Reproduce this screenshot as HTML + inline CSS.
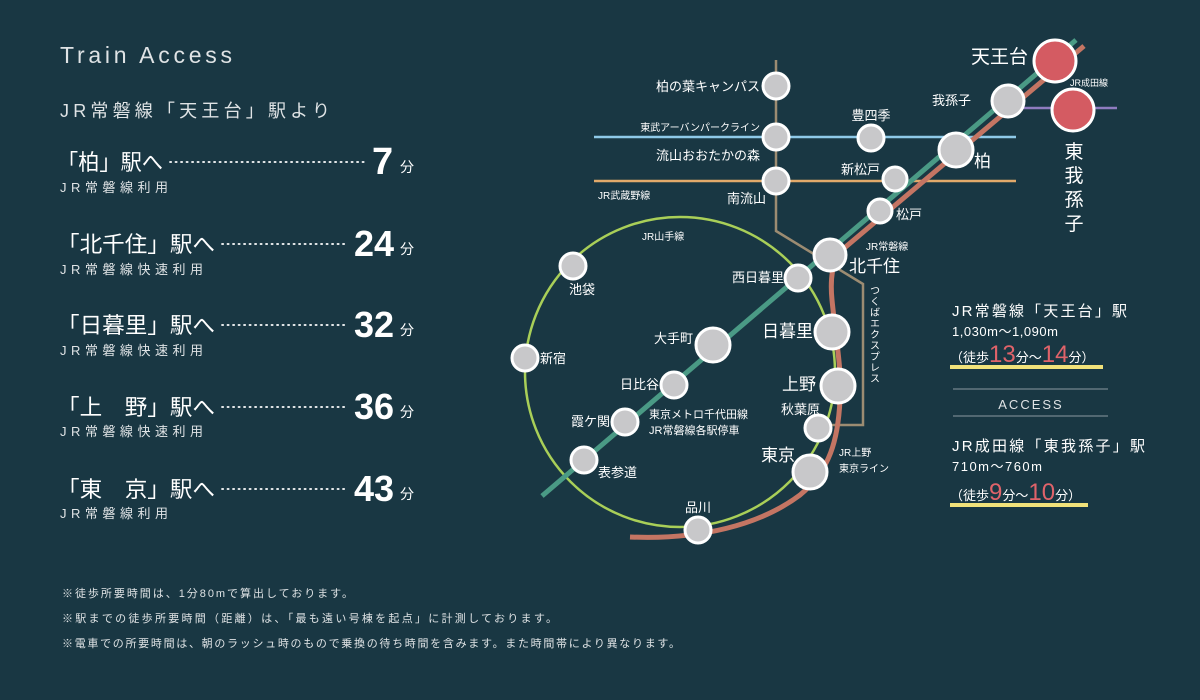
<!DOCTYPE html>
<html><head><meta charset="utf-8"><style>
html,body{margin:0;padding:0;background:#193743;}
svg{display:block}
text{font-family:"Liberation Sans","Noto Sans CJK JP",sans-serif;fill:#fff}
.s{fill:#c8c8ca;stroke:#fff;stroke-width:3}
.r{fill:#d45b62;stroke:#fff;stroke-width:3}
.l{fill:#dfe3e5}
.d{stroke:#fff;stroke-width:1.8;stroke-dasharray:1.2 4.3;stroke-linecap:round}
</style></head><body>
<svg width="1200" height="700" viewBox="0 0 1200 700" xmlns="http://www.w3.org/2000/svg">
<rect width="1200" height="700" fill="#193743"/>
<!-- left -->
<text x="60" y="63" font-size="23" textLength="172" lengthAdjust="spacing" font-weight="300" class="l">Train Access</text>
<text x="60" y="117" font-size="18" textLength="270" lengthAdjust="spacing" class="l">JR常磐線「天王台」駅より</text>

<text x="57" y="170" font-size="22" textLength="106" lengthAdjust="spacingAndGlyphs">「柏」駅へ</text>
<line x1="170" y1="162" x2="368" y2="162" class="d"/>
<text x="372" y="174" font-size="38" font-weight="bold">7</text>
<text x="400" y="172" font-size="14">分</text>
<text x="60" y="192" font-size="13" textLength="108" lengthAdjust="spacing" class="l">JR常磐線利用</text>

<text x="57" y="252" font-size="22" textLength="158" lengthAdjust="spacingAndGlyphs">「北千住」駅へ</text>
<line x1="222" y1="244" x2="346" y2="244" class="d"/>
<text x="354" y="256" font-size="36" font-weight="bold">24</text>
<text x="400" y="254" font-size="14">分</text>
<text x="60" y="274" font-size="13" textLength="143" lengthAdjust="spacing" class="l">JR常磐線快速利用</text>

<text x="57" y="333" font-size="22" textLength="158" lengthAdjust="spacingAndGlyphs">「日暮里」駅へ</text>
<line x1="222" y1="325" x2="346" y2="325" class="d"/>
<text x="354" y="337" font-size="36" font-weight="bold">32</text>
<text x="400" y="335" font-size="14">分</text>
<text x="60" y="355" font-size="13" textLength="143" lengthAdjust="spacing" class="l">JR常磐線快速利用</text>

<text x="57" y="415" font-size="22" textLength="158" lengthAdjust="spacingAndGlyphs">「上　野」駅へ</text>
<line x1="222" y1="407" x2="346" y2="407" class="d"/>
<text x="354" y="419" font-size="36" font-weight="bold">36</text>
<text x="400" y="417" font-size="14">分</text>
<text x="60" y="436" font-size="13" textLength="143" lengthAdjust="spacing" class="l">JR常磐線快速利用</text>

<text x="57" y="497" font-size="22" textLength="158" lengthAdjust="spacingAndGlyphs">「東　京」駅へ</text>
<line x1="222" y1="489" x2="346" y2="489" class="d"/>
<text x="354" y="501" font-size="36" font-weight="bold">43</text>
<text x="400" y="499" font-size="14">分</text>
<text x="60" y="518" font-size="13" textLength="108" lengthAdjust="spacing" class="l">JR常磐線利用</text>

<text x="62" y="597" font-size="11" textLength="291" lengthAdjust="spacing" class="l">※徒歩所要時間は、1分80mで算出しております。</text>
<text x="62" y="622" font-size="11" textLength="495" lengthAdjust="spacing" class="l">※駅までの徒歩所要時間（距離）は、「最も遠い号棟を起点」に計測しております。</text>
<text x="62" y="647" font-size="11" textLength="618" lengthAdjust="spacing" class="l">※電車での所要時間は、朝のラッシュ時のもので乗換の待ち時間を含みます。また時間帯により異なります。</text>

<!-- map lines -->
<circle cx="680" cy="372" r="155" fill="none" stroke="#a9cf58" stroke-width="2.5"/>
<line x1="594" y1="137" x2="1016" y2="137" stroke="#8ec9e8" stroke-width="2.5"/>
<line x1="594" y1="181" x2="1016" y2="181" stroke="#e2a96a" stroke-width="2.5"/>
<line x1="1000" y1="108" x2="1117" y2="108" stroke="#8f7cc0" stroke-width="2.5"/>
<polyline points="776,60 776,231 863,284 863,425 818,425" fill="none" stroke="#9c8c72" stroke-width="2.5"/>
<line x1="542" y1="496" x2="1076" y2="40" stroke="#4a9a85" stroke-width="5"/>
<path d="M1084,46 L842,250 C832,260 830,280 832,300 C836,340 842,370 840,400 C838,440 830,470 800,495 C760,525 700,540 630,537" fill="none" stroke="#c47563" stroke-width="5"/>

<!-- stations -->
<circle class="s" cx="776" cy="86" r="13"/>
<circle class="s" cx="776" cy="137" r="13"/>
<circle class="s" cx="776" cy="181" r="13"/>
<circle class="s" cx="871" cy="138" r="13"/>
<circle class="s" cx="895" cy="179" r="12"/>
<circle class="s" cx="880" cy="211" r="12"/>
<circle class="s" cx="1008" cy="101" r="16"/>
<circle class="s" cx="956" cy="150" r="17"/>
<circle class="s" cx="830" cy="255" r="16"/>
<circle class="s" cx="798" cy="278" r="13"/>
<circle class="s" cx="832" cy="332" r="17"/>
<circle class="s" cx="838" cy="386" r="17"/>
<circle class="s" cx="818" cy="428" r="13"/>
<circle class="s" cx="810" cy="472" r="17"/>
<circle class="s" cx="713" cy="345" r="17"/>
<circle class="s" cx="674" cy="385" r="13"/>
<circle class="s" cx="625" cy="422" r="13"/>
<circle class="s" cx="584" cy="460" r="13"/>
<circle class="s" cx="698" cy="530" r="13"/>
<circle class="s" cx="573" cy="266" r="13"/>
<circle class="s" cx="525" cy="358" r="13"/>
<circle class="r" cx="1055" cy="61" r="21"/>
<circle class="r" cx="1073" cy="110" r="21"/>

<!-- labels -->
<g class="l">
<text x="1028" y="63" font-size="19" text-anchor="end" fill="#fff">天王台</text>
<text x="1070" y="86" font-size="9">JR成田線</text>
<text x="1074" y="158" font-size="19" text-anchor="middle">東</text>
<text x="1074" y="182" font-size="19" text-anchor="middle">我</text>
<text x="1074" y="206" font-size="19" text-anchor="middle">孫</text>
<text x="1074" y="230" font-size="19" text-anchor="middle">子</text>
<text x="932" y="105" font-size="13">我孫子</text>
<text x="974" y="167" font-size="17">柏</text>
<text x="760" y="91" font-size="13" text-anchor="end">柏の葉キャンパス</text>
<text x="760" y="131" font-size="10" text-anchor="end">東武アーバンパークライン</text>
<text x="760" y="160" font-size="13" text-anchor="end">流山おおたかの森</text>
<text x="598" y="199" font-size="10">JR武蔵野線</text>
<text x="766" y="203" font-size="13" text-anchor="end">南流山</text>
<text x="871" y="120" font-size="13" text-anchor="middle">豊四季</text>
<text x="880" y="174" font-size="13" text-anchor="end">新松戸</text>
<text x="896" y="219" font-size="13">松戸</text>
<text x="866" y="250" font-size="10">JR常磐線</text>
<text x="849" y="272" font-size="17" fill="#fff">北千住</text>
<text x="642" y="240" font-size="10">JR山手線</text>
<text x="569" y="294" font-size="13">池袋</text>
<text x="540" y="363" font-size="13">新宿</text>
<text x="784" y="282" font-size="13" text-anchor="end">西日暮里</text>
<text x="813" y="337" font-size="17" text-anchor="end" fill="#fff">日暮里</text>
<text x="816" y="390" font-size="17" text-anchor="end" fill="#fff">上野</text>
<text x="820" y="414" font-size="13" text-anchor="end">秋葉原</text>
<text x="795" y="461" font-size="17" text-anchor="end" fill="#fff">東京</text>
<text x="839" y="456" font-size="10">JR上野</text>
<text x="839" y="472" font-size="10">東京ライン</text>
<text x="693" y="343" font-size="13" text-anchor="end">大手町</text>
<text x="659" y="389" font-size="13" text-anchor="end">日比谷</text>
<text x="610" y="426" font-size="13" text-anchor="end">霞ケ関</text>
<text x="649" y="418" font-size="11">東京メトロ千代田線</text>
<text x="649" y="434" font-size="11">JR常磐線各駅停車</text>
<text x="598" y="477" font-size="13">表参道</text>
<text x="698" y="512" font-size="13" text-anchor="middle">品川</text>
<text x="873" y="285" font-size="10" writing-mode="tb" letter-spacing="1">つくばエクスプレス</text>
</g>

<!-- right box -->
<text x="952" y="316" font-size="15" textLength="175" lengthAdjust="spacing">JR常磐線「天王台」駅</text>
<text x="952" y="336" font-size="13" textLength="106" lengthAdjust="spacing">1,030m〜1,090m</text>
<rect x="950" y="365" width="153" height="4" fill="#f1e27a"/>
<text x="950" y="362" font-size="13">（徒歩<tspan font-size="24" fill="#e0636a">13</tspan>分〜<tspan font-size="24" fill="#e0636a">14</tspan>分）</text>
<line x1="953" y1="389" x2="1108" y2="389" stroke="#8a9aa0" stroke-width="1"/>
<text x="1031" y="409" font-size="13" text-anchor="middle" letter-spacing="2" class="l">ACCESS</text>
<line x1="953" y1="416" x2="1108" y2="416" stroke="#8a9aa0" stroke-width="1"/>
<text x="952" y="451" font-size="15" textLength="193" lengthAdjust="spacing">JR成田線「東我孫子」駅</text>
<text x="952" y="471" font-size="13" textLength="90" lengthAdjust="spacing">710m〜760m</text>
<rect x="950" y="503" width="138" height="4" fill="#f1e27a"/>
<text x="950" y="500" font-size="13">（徒歩<tspan font-size="24" fill="#e0636a">9</tspan>分〜<tspan font-size="24" fill="#e0636a">10</tspan>分）</text>
</svg>
</body></html>
